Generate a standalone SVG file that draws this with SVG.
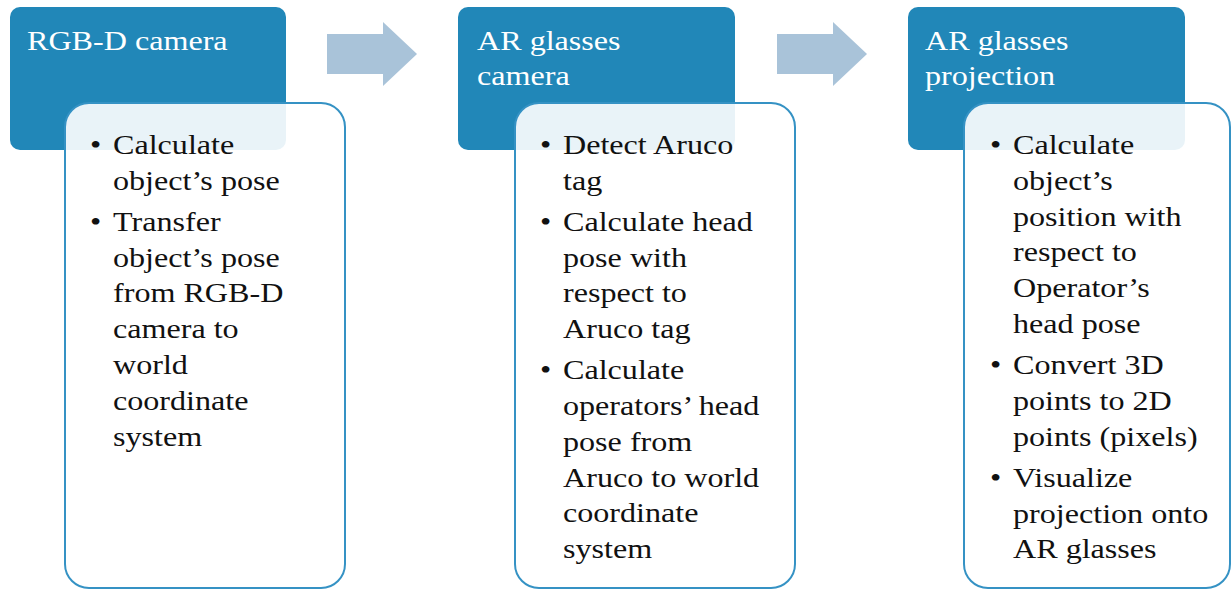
<svg xmlns="http://www.w3.org/2000/svg" width="1232" height="590" viewBox="0 0 1232 590">
<style>
.hdr{fill:#2187b8}
.card{fill:#ffffff;fill-opacity:0.9;stroke:#3592c4;stroke-width:2}
.arrow{fill:#a9c3d9}
text{font-family:"Liberation Serif","Times New Roman",serif;font-size:27px}
.ht{fill:#ffffff}
.bt{fill:#111111}
</style>
<rect width="1232" height="590" fill="#ffffff"/>
<g id="connectors">
<polygon class="arrow" points="327,34 383,34 383,22 417,54 383,86 383,74 327,74"/>
<polygon class="arrow" points="777,34 833,34 833,22 867,54 833,86 833,74 777,74"/>
</g>
<g id="node-rgbd">
<rect class="hdr" x="10" y="7" width="276" height="143" rx="10"/>
<g transform="translate(27 0) scale(1.19 1)"><text class="ht" x="0" y="50">RGB-D camera</text></g>
<rect class="card" x="65" y="103" width="280" height="485" rx="24"/>
<g transform="translate(90 2) scale(1.19 1)" class="bt">
<text x="0" y="152">•</text><text x="0" y="228.8">•</text>
</g>
<g transform="translate(113 2) scale(1.19 1)" class="bt">
<text x="0" y="152">Calculate</text>
<text x="0" y="187.8">object’s pose</text>
<text x="0" y="228.8">Transfer</text>
<text x="0" y="264.6">object’s pose</text>
<text x="0" y="300.4">from RGB-D</text>
<text x="0" y="336.2">camera to</text>
<text x="0" y="372">world</text>
<text x="0" y="407.8">coordinate</text>
<text x="0" y="443.6">system</text>
</g>
</g>
<g id="node-arcam">
<rect class="hdr" x="458" y="7" width="277" height="143" rx="10"/>
<g transform="translate(477 0) scale(1.19 1)"><text class="ht" x="0" y="50">AR glasses</text><text class="ht" x="0" y="85">camera</text></g>
<rect class="card" x="515" y="103" width="280" height="485" rx="24"/>
<g transform="translate(540 2) scale(1.19 1)" class="bt">
<text x="0" y="152">•</text><text x="0" y="228.8">•</text><text x="0" y="377.2">•</text>
</g>
<g transform="translate(563 2) scale(1.19 1)" class="bt">
<text x="0" y="152">Detect Aruco</text>
<text x="0" y="187.8">tag</text>
<text x="0" y="228.8">Calculate head</text>
<text x="0" y="264.6">pose with</text>
<text x="0" y="300.4">respect to</text>
<text x="0" y="336.2">Aruco tag</text>
<text x="0" y="377.2">Calculate</text>
<text x="0" y="413">operators’ head</text>
<text x="0" y="448.8">pose from</text>
<text x="0" y="484.6">Aruco to world</text>
<text x="0" y="520.4">coordinate</text>
<text x="0" y="556.2">system</text>
</g>
</g>
<g id="node-arproj">
<rect class="hdr" x="908" y="7" width="277" height="143" rx="10"/>
<g transform="translate(925 0) scale(1.19 1)"><text class="ht" x="0" y="50">AR glasses</text><text class="ht" x="0" y="85">projection</text></g>
<rect class="card" x="964" y="103" width="266" height="485" rx="24"/>
<g transform="translate(990 2) scale(1.19 1)" class="bt">
<text x="0" y="152">•</text><text x="0" y="372">•</text><text x="0" y="484.8">•</text>
</g>
<g transform="translate(1013 2) scale(1.19 1)" class="bt">
<text x="0" y="152">Calculate</text>
<text x="0" y="187.8">object’s</text>
<text x="0" y="223.6">position with</text>
<text x="0" y="259.4">respect to</text>
<text x="0" y="295.2">Operator’s</text>
<text x="0" y="331">head pose</text>
<text x="0" y="372">Convert 3D</text>
<text x="0" y="407.8">points to 2D</text>
<text x="0" y="443.6">points (pixels)</text>
<text x="0" y="484.8">Visualize</text>
<text x="0" y="520.6">projection onto</text>
<text x="0" y="556.4">AR glasses</text>
</g>
</g>
</svg>
